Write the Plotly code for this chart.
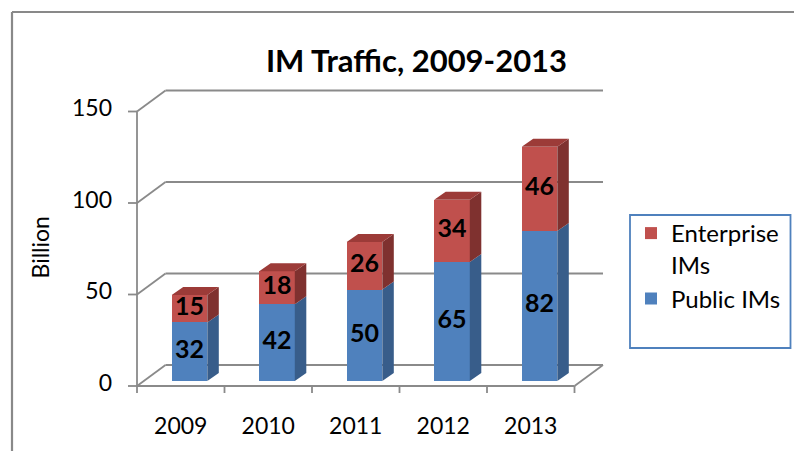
import plotly.graph_objects as go

# ---- data ----
years = ["2009", "2010", "2011", "2012", "2013"]
public_ims = [32, 42, 50, 65, 82]
enterprise_ims = [15, 18, 26, 34, 46]
y_ticks = [0, 50, 100, 150]
series_names = ["Public IMs", "Enterprise<br>IMs"]

# ---- layout constants (page body margin is removed, so screen px == figure px) ----
W, H = 794, 451
PX_CAT = 87.5          # px per category
PX_VAL = 1.83          # px per value unit
X0_PX = 189.5          # px of first bar centre
Y0_PX = 381.0          # px of value 0 in the bar plane
XR = [-X0_PX / PX_CAT, (W - X0_PX) / PX_CAT]
YR = [(Y0_PX - H) / PX_VAL, Y0_PX / PX_VAL]

def px(xs):  # screen x -> paper
    return xs / W

def py(ys):  # screen y -> paper
    return 1 - ys / H

DX, DY = 28.5 / PX_CAT, 21.0 / PX_VAL        # full depth of the box
YF = -5.0 / PX_VAL                            # front plane offset
XL = (137 - X0_PX) / PX_CAT                   # front-left corner x
XRIGHT = XL + len(years)
BW = 35.6 / PX_CAT                            # bar width
BDX, BDY = 11.5 / PX_CAT, 8.0 / PX_VAL        # bar depth

GRID = "#8a8a8a"
BLUE, BLUE_SIDE = "#4f81bd", "#385d8a"
RED, RED_SIDE, RED_TOP = "#c0504d", "#7f312f", "#9c3b38"
FONT = "Lato"

fig = go.Figure()

# ---- walls / floor as shapes below traces ----
shapes = []
def seg(x0, y0, x1, y1):
    shapes.append(dict(type="line", xref="x", yref="y", x0=x0, y0=y0, x1=x1, y1=y1,
                       line=dict(color=GRID, width=1.8), layer="below"))

top = max(y_ticks)
for v in y_ticks:
    seg(XL + DX, v + YF + DY, XRIGHT + DX, v + YF + DY)        # back wall gridline
    seg(XL, v + YF, XL + DX, v + YF + DY)                      # side wall diagonal
    seg(XL - 9 / PX_CAT, v + YF, XL, v + YF)                   # tick mark
seg(XL, YF, XL, top + YF)                                      # front vertical axis
seg(XL, YF, XRIGHT, YF)                                        # floor front edge
seg(XRIGHT, YF, XRIGHT + DX, YF + DY)                          # floor right edge
for k in range(len(years) + 1):
    seg(XL + k, YF, XL + k, YF - 7 / PX_VAL)                   # category ticks

# outer frame
shapes.append(dict(type="line", xref="paper", yref="paper", x0=px(12), x1=1.0,
                   y0=py(12), y1=py(12), line=dict(color="#898989", width=2.2)))
shapes.append(dict(type="line", xref="paper", yref="paper", x0=px(12), x1=px(12),
                   y0=0, y1=py(12), line=dict(color="#898989", width=2.2)))
# legend frame
shapes.append(dict(type="rect", xref="paper", yref="paper", x0=px(630), x1=px(790.5),
                   y0=py(348), y1=py(215), line=dict(color="#4f81bd", width=1.8)))

# ---- bar fronts ----
xs = list(range(len(years)))
fig.add_trace(go.Bar(x=xs, y=public_ims, name=series_names[0], marker=dict(color=BLUE, line=dict(width=0)),
                     width=BW, hoverinfo="skip"))
fig.add_trace(go.Bar(x=xs, y=enterprise_ims, name=series_names[1], marker=dict(color=RED, line=dict(width=0)),
                     width=BW, hoverinfo="skip"))

# ---- side and top faces ----
def poly(pts_list):
    ox, oy = [], []
    for pts in pts_list:
        for (a, b) in pts:
            ox.append(a); oy.append(b)
        ox.append(None); oy.append(None)
    return ox, oy

bases = [0] * len(xs)
stacks = [(public_ims, BLUE_SIDE, None), (enterprise_ims, RED_SIDE, RED_TOP)]
for vals, side_col, top_col in stacks:
    sides, tops = [], []
    for i, v in enumerate(vals):
        b = bases[i]
        xr = i + BW / 2
        xl = i - BW / 2
        sides.append([(xr, b), (xr + BDX, b + BDY), (xr + BDX, b + v + BDY), (xr, b + v), (xr, b)])
        tops.append([(xl, b + v), (xl + BDX, b + v + BDY), (xr + BDX, b + v + BDY), (xr, b + v), (xl, b + v)])
    sx, sy = poly(sides)
    fig.add_trace(go.Scatter(x=sx, y=sy, fill="toself", fillcolor=side_col, mode="lines",
                             line=dict(width=0, color=side_col), showlegend=False, hoverinfo="skip"))
    if top_col:
        tx, ty = poly(tops)
        fig.add_trace(go.Scatter(x=tx, y=ty, fill="toself", fillcolor=top_col, mode="lines",
                                 line=dict(width=0, color=top_col), showlegend=False, hoverinfo="skip"))
    # data labels
    fig.add_trace(go.Scatter(x=xs, y=[bases[i] + vals[i] / 2 for i in xs], mode="text",
                             text=[str(v) for v in vals],
                             textfont=dict(family=FONT, size=25, color="black", weight="bold"),
                             showlegend=False, hoverinfo="skip"))
    bases = [bases[i] + vals[i] for i in xs]

# ---- axis labels as text ----
fig.add_trace(go.Scatter(x=[XL - 25 / PX_CAT] * len(y_ticks), y=[v + YF + 1 / PX_VAL for v in y_ticks],
                         mode="text", text=[str(v) for v in y_ticks], textposition="middle left",
                         textfont=dict(family=FONT, size=23, color="black"),
                         showlegend=False, hoverinfo="skip"))
fig.add_trace(go.Scatter(x=[XL + 0.5 + k for k in xs], y=[(Y0_PX - 428) / PX_VAL] * len(xs),
                         mode="text", text=years, textposition="middle center",
                         textfont=dict(family=FONT, size=23, color="black"),
                         showlegend=False, hoverinfo="skip"))

fig.update_layout(
    width=W, height=H, margin=dict(l=0, r=0, t=0, b=0),
    paper_bgcolor="white", plot_bgcolor="white",
    barmode="stack", bargap=0,
    xaxis=dict(range=XR, visible=False, fixedrange=True),
    yaxis=dict(range=YR, visible=False, fixedrange=True),
    shapes=shapes,
    title=dict(text="<b>IM Traffic, 2009-2013</b>", x=px(416.5), y=py(61),
               xanchor="center", yanchor="middle", font=dict(family=FONT, size=31, color="black")),
    annotations=[dict(text="Billion", xref="paper", yref="paper", x=px(39), y=py(247.5),
                      textangle=-90, showarrow=False, xanchor="center", yanchor="middle",
                      font=dict(family=FONT, size=23, color="black"))],
    legend=dict(x=px(631), y=py(211), xanchor="left", yanchor="top",
                bgcolor="rgba(0,0,0,0)", borderwidth=0, traceorder="reversed",
                valign="top", itemwidth=30,
                font=dict(family=FONT, size=24, color="black"), tracegroupgap=0),
    showlegend=True,
)

fig.write_html("out.html", config={"displayModeBar": False},
               post_script="document.body.style.margin='0';document.body.style.overflow='hidden';")
